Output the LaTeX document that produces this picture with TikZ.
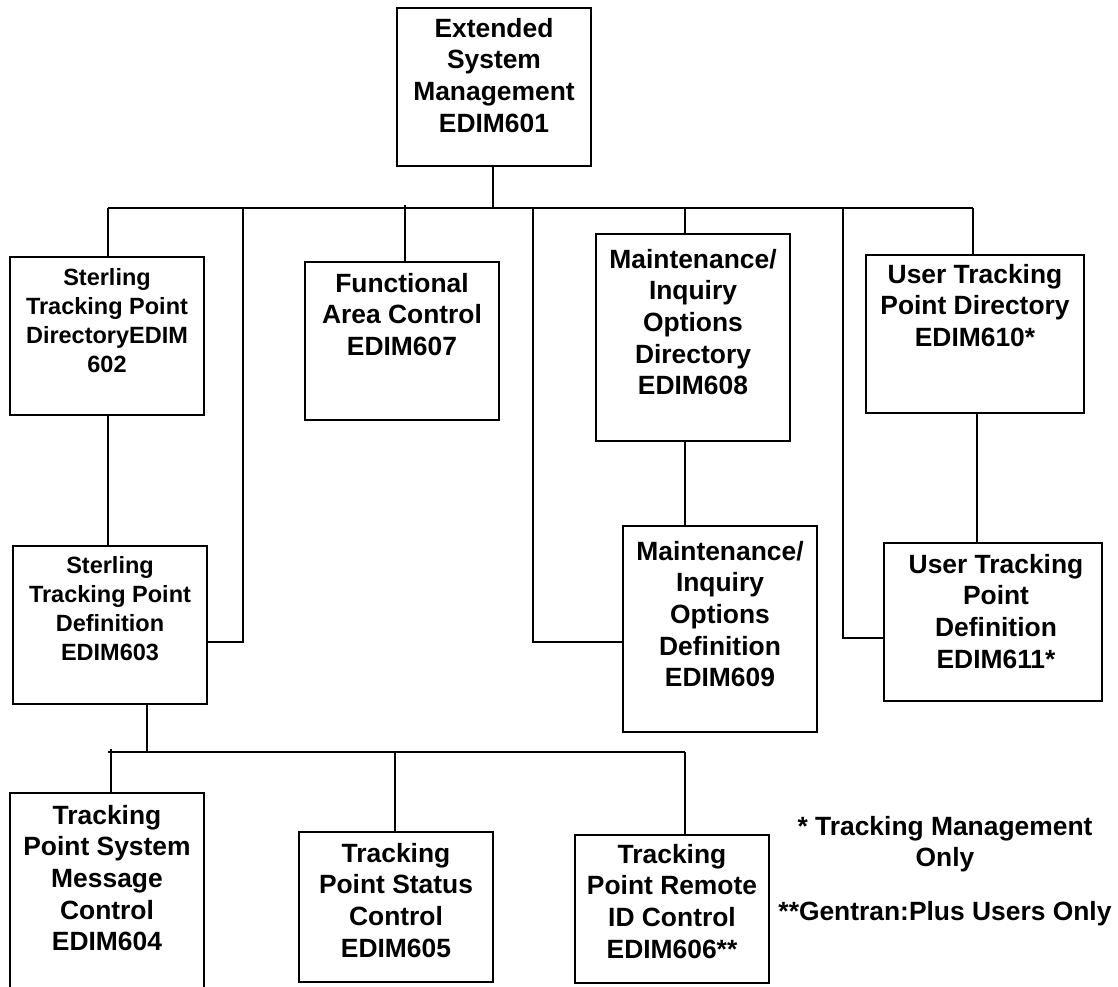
\documentclass[tikz,border=0pt]{standalone}
\usepackage{fontspec}
\setmainfont{Liberation Sans}
\newcommand\boxlines[1]{\begin{tabular}[t]{@{}c@{}}#1\end{tabular}}
\begin{document}
\begin{tikzpicture}[x=1pt,y=-1pt,
  box/.style={draw, line width=1.8pt, inner sep=0pt},
  conn/.style={draw, line width=1.8pt},
  bigtxt/.style={inner sep=0pt, anchor=base, font=\fontsize{26.4pt}{31.7pt}\selectfont\bfseries},
  smalltxt/.style={inner sep=0pt, anchor=base, font=\fontsize{23.5pt}{29.2pt}\selectfont\bfseries},
  note/.style={inner sep=0pt, anchor=base, font=\fontsize{26.4pt}{31.7pt}\selectfont\bfseries}]
\useasboundingbox (0,0) rectangle (1118,986);
\clip (0,0) rectangle (1118,986);

% boxes
\node[box, minimum width=194pt, minimum height=158pt] (e601) at (494,87) {};
\node[box, minimum width=194pt, minimum height=158pt] (e602) at (107,336) {};
\node[box, minimum width=194pt, minimum height=158pt] (e607) at (402,341) {};
\node[box, minimum width=194pt, minimum height=207pt] (e608) at (693,337.5) {};
\node[box, minimum width=218pt, minimum height=158pt] (e610) at (975,334) {};
\node[box, minimum width=194pt, minimum height=158pt] (e603) at (110,625) {};
\node[box, minimum width=194pt, minimum height=206pt] (e609) at (720,629) {};
\node[box, minimum width=218pt, minimum height=158pt] (e611) at (993,622) {};
\node[box, minimum width=194pt, minimum height=220pt] (e604) at (107,903) {};
\node[box, minimum width=194pt, minimum height=150pt] (e605) at (396,907) {};
\node[box, minimum width=194pt, minimum height=148pt] (e606) at (672,909) {};

% texts
\node[bigtxt] (t601) at (494,37) {\boxlines{Extended\\System\\Management\\EDIM601}};
\node[smalltxt] (t602) at (107,285) {\boxlines{Sterling\\Tracking Point\\DirectoryEDIM\\602}};
\node[bigtxt] (t607) at (402,292) {\boxlines{Functional\\Area Control\\EDIM607}};
\node[bigtxt] (t608) at (693,268) {\boxlines{Maintenance/\\Inquiry\\Options\\Directory\\EDIM608}};
\node[bigtxt] (t610) at (975,283) {\boxlines{User Tracking\\Point Directory\\EDIM610*}};
\node[smalltxt] (t603) at (110,573) {\boxlines{Sterling\\Tracking Point\\Definition\\EDIM603}};
\node[bigtxt] (t609) at (720,560) {\boxlines{Maintenance/\\Inquiry\\Options\\Definition\\EDIM609}};
\node[bigtxt] (t611) at (996,573) {\boxlines{User Tracking\\Point\\Definition\\EDIM611*}};
\node[bigtxt] (t604) at (107,824) {\boxlines{Tracking\\Point System\\Message\\Control\\EDIM604}};
\node[bigtxt] (t605) at (396,862) {\boxlines{Tracking\\Point Status\\Control\\EDIM605}};
\node[bigtxt] (t606) at (672,863) {\boxlines{Tracking\\Point Remote\\ID Control\\EDIM606**}};
\node[note] (n1) at (945,835) {\boxlines{* Tracking Management\\Only}};
\node[note] (n2) at (945,920) {**Gentran:Plus Users Only};

% junctions
\coordinate (bus1L) at (108,208);
\coordinate (bus1R) at (973,208);
\coordinate (stem601) at (493,208);
\coordinate (jA) at (243,208);
\coordinate (kA) at (243,642);
\coordinate (j607) at (405,205);
\coordinate (jB) at (533,208);
\coordinate (kB) at (533,642);
\coordinate (j608) at (685,208);
\coordinate (jC) at (843,208);
\coordinate (kC) at (843,638);
\coordinate (j23) at (108,0);
\coordinate (j1011) at (977,0);
\coordinate (stem603) at (147,752);
\coordinate (bus2L) at (108,752);
\coordinate (bus2R) at (685,752);
\coordinate (j604) at (111,749);
\coordinate (j605) at (395,752);

% connectors
\draw[conn] (stem601 |- e601.south) -- (stem601);
\draw[conn] (bus1L) -- (bus1R);
\draw[conn] (bus1L) -- (bus1L |- e602.north);
\draw[conn] (j607) -- (j607 |- e607.north);
\draw[conn] (j608) -- (j608 |- e608.north);
\draw[conn] (bus1R) -- (bus1R |- e610.north);
\draw[conn] (jA) -- (kA) -- (kA -| e603.east);
\draw[conn] (jB) -- (kB) -- (kB -| e609.west);
\draw[conn] (jC) -- (kC) -- (kC -| e611.west);
\draw[conn] (j23 |- e602.south) -- (j23 |- e603.north);
\draw[conn] (j608 |- e608.south) -- (j608 |- e609.north);
\draw[conn] (j1011 |- e610.south) -- (j1011 |- e611.north);
\draw[conn] (stem603 |- e603.south) -- (stem603);
\draw[conn] (bus2L) -- (bus2R);
\draw[conn] (j604) -- (j604 |- e604.north);
\draw[conn] (j605) -- (j605 |- e605.north);
\draw[conn] (bus2R) -- (bus2R |- e606.north);
\end{tikzpicture}
\end{document}
